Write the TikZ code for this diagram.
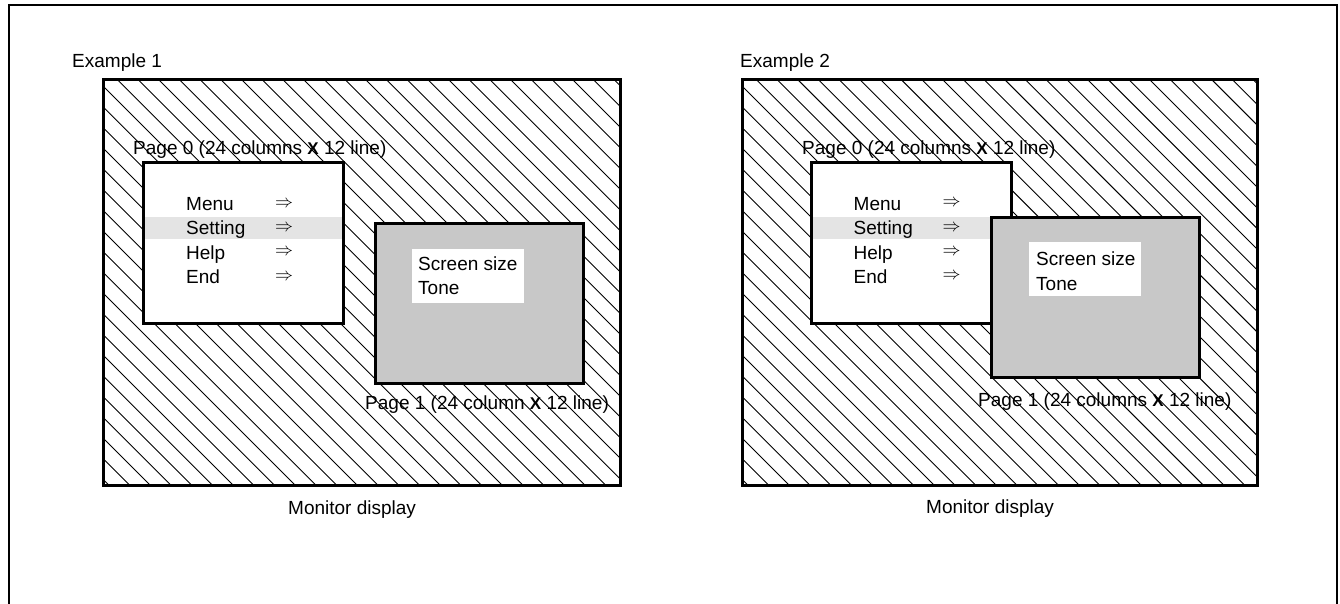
\documentclass[tikz,border=0pt]{standalone}
\usepackage{fontspec}
\setmainfont{Liberation Sans}
\definecolor{pagegray}{RGB}{200,200,200}
\definecolor{bargray}{RGB}{228,228,228}
\newcommand{\crossx}{{\fontsize{17}{20}\selectfont\bfseries X}}
\newcommand{\goarrow}{\resizebox{18pt}{!}{$\Rightarrow$}}
\begin{document}
\begin{tikzpicture}[x=1pt,y=-1pt,
    every node/.style={inner sep=0pt,font=\fontsize{19}{23}\selectfont},
    monitor/.style={draw,line width=3pt,minimum width=517pt,minimum height=405pt,
      path picture={\foreach \c in {-420,-399.3,...,540}
        \draw[line width=0.9pt] ([xshift=\c pt]path picture bounding box.north west) -- ++(460,460);}},
    pagebox/.style={draw,line width=3pt,fill=white,minimum width=200pt,minimum height=160pt},
    bar/.style={fill=bargray,minimum width=197pt,minimum height=22pt},
    txt/.style={anchor=base west},
    arr/.style={anchor=west}]
  \useasboundingbox (0,0) rectangle (1340,604);
  \draw[line width=2pt] (9,5) rectangle (1337,650);
  % example 1
  \node (E1) [txt] at (72,68) {Example 1};
  \node (M1) [monitor] at (361.5,282.5) {};
  \node (D1) [txt] at (288,514) {Monitor display};
  \node (P0_1) [pagebox] at (243,243) {};
  \node (B1) [bar] at (243,228) {};
  \node (A0_1) [txt] at (186,211) {Menu};
  \node (A1_1) [txt] at (186,234.5) {Setting};
  \node (A2_1) [txt] at (186,259) {Help};
  \node (A3_1) [txt] at (186,283) {End};
  \foreach \y [count=\i from 0] in {204,228.3,252.3,276.7}
    \node (R\i_1) [arr] at (275,\y) {\goarrow};
  \node (L0_1) [txt] at (133,155) {Page 0 (24 columns \crossx{} 12 line)};
  \node (P1_1) [pagebox,fill=pagegray,minimum width=208pt] at (479,303) {};
  \node (T1) [fill=white,minimum width=112pt,minimum height=54pt] at (468,276) {};
  \node (S0_1) [txt] at (418,270) {Screen size};
  \node (S1_1) [txt] at (418,294) {Tone};
  \node (L1_1) [txt] at (365,409.5) {Page 1 (24 column \crossx{} 12 line)};
  % example 2
  \node (E2) [txt] at (740,68) {Example 2};
  \node (M2) [monitor,minimum width=515pt] at (999.5,282.5) {};
  \node (D2) [txt] at (926,513.5) {Monitor display};
  \node (P0_2) [pagebox] at (911.5,243) {};
  \node (B2) [bar] at (911.5,228) {};
  \node (A0_2) [txt] at (853.5,211) {Menu};
  \node (A1_2) [txt] at (853.5,234.5) {Setting};
  \node (A2_2) [txt] at (853.5,259) {Help};
  \node (A3_2) [txt] at (853.5,283) {End};
  \foreach \y [count=\i from 0] in {203.5,227.8,252,276.3}
    \node (R\i_2) [arr] at (942.5,\y) {\goarrow};
  \node (L0_2) [txt] at (802,155) {Page 0 (24 columns \crossx{} 12 line)};
  \node (P1_2) [pagebox,fill=pagegray,minimum width=208pt] at (1095.5,297) {};
  \node (T2) [fill=white,minimum width=112pt,minimum height=54pt] at (1085,269) {};
  \node (S0_2) [txt] at (1036,265) {Screen size};
  \node (S1_2) [txt] at (1036,290) {Tone};
  \node (L1_2) [txt] at (978,406) {Page 1 (24 columns \crossx{} 12 line)};
\end{tikzpicture}
\end{document}
